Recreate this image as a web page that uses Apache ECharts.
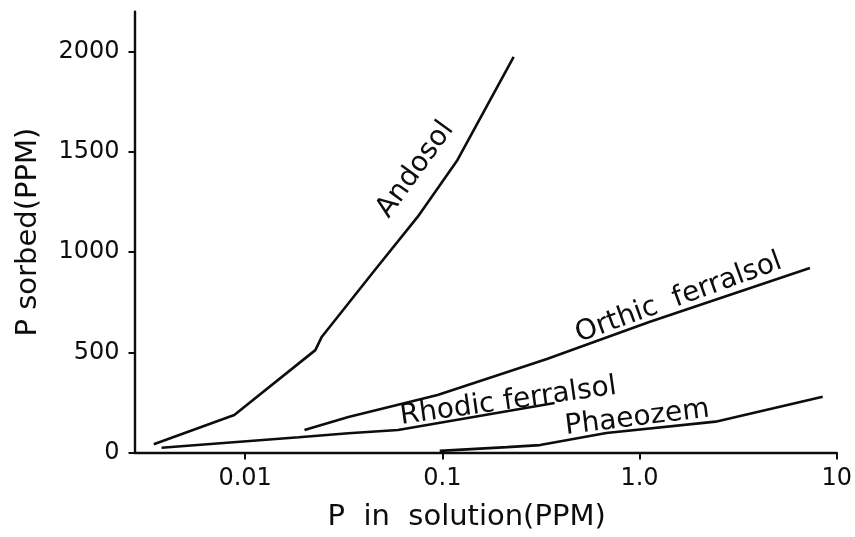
<!DOCTYPE html>
<html>
<head>
<meta charset="utf-8">
<script src="https://cdn.jsdelivr.net/npm/echarts@6/dist/echarts.min.js"></script>
<style>
  html, body { margin: 0; padding: 0; background: #fff; }
  #chart { width: 855px; height: 537px; }
</style>
</head>
<body>
<div id="chart"></div>
<script>
// P in solution (ppm) vs P sorbed (ppm)
var andosolX = [0.00344, 0.00881, 0.0227, 0.0245, 0.0455, 0.0751, 0.1194, 0.230];
var andosolY = [41, 187, 511, 578, 911, 1177, 1460, 1975];

var orthicX = [0.0200, 0.0334, 0.0946, 0.339, 1.12, 7.31];
var orthicY = [112, 177, 287, 467, 651, 921];

var rhodicX = [0.00377, 0.0187, 0.0334, 0.0596, 0.371];
var rhodicY = [24, 76, 96, 112, 247];

var phaeozemX = [0.097, 0.213, 0.313, 0.679, 2.43, 8.49];
var phaeozemY = [8, 27, 37, 97, 154, 278];

var xTicks = [0.01, 0.1, 1, 10];
var xTickText = ['0.01', '0.1', '1.0', '10'];
var yTicks = [0, 500, 1000, 1500, 2000];

// curve names written along the lines
var labelNames = ['Andosol', 'Orthic  ferralsol', 'Rhodic ferralsol', 'Phaeozem'];
var labelX = [0.0730, 1.58, 0.216, 0.973];
var labelY = [1412, 771, 254, 172];
var labelAngle = [54, 20, 8, 7];

var ink = '#0d0d0d';
var font = 'DejaVu Sans';

function pairs(xs, ys) {
  return xs.map(function (x, i) { return [x, ys[i]]; });
}

function lineSeries(name, xs, ys) {
  return {
    name: name,
    type: 'line',
    data: pairs(xs, ys),
    showSymbol: false,
    symbol: 'none',
    lineStyle: { color: ink, width: 2.6 },
    silent: true
  };
}

var chart = echarts.init(document.getElementById('chart'), null, { renderer: 'canvas' });

chart.setOption({
  backgroundColor: '#ffffff',
  animation: false,
  grid: { left: 134.5, right: 12.9, top: 11.7, bottom: 84.5, containLabel: false },
  xAxis: {
    type: 'log',
    logBase: 10,
    min: 0.002748,
    max: 10,
    name: 'P  in  solution(PPM)',
    nameLocation: 'middle',
    nameGap: 50,
    nameTextStyle: { color: ink, fontFamily: font, fontSize: 29, padding: [0, 38, 0, 0] },
    axisLine: { lineStyle: { color: ink, width: 2.4 } },
    axisTick: { inside: false, length: 7, lineStyle: { color: ink, width: 2 } },
    axisLabel: {
      showMinLabel: false,
      margin: 14,
      color: ink,
      fontFamily: font,
      fontSize: 24,
      formatter: function (v) {
        for (var i = 0; i < xTicks.length; i++) {
          if (Math.abs(Math.log10(v) - Math.log10(xTicks[i])) < 1e-6) return xTickText[i];
        }
        return '';
      }
    },
    splitLine: { show: false }
  },
  yAxis: {
    type: 'value',
    min: 0,
    max: 2200,
    interval: 500,
    name: 'P sorbed(PPM)',
    nameLocation: 'middle',
    nameGap: 92,
    nameTextStyle: { color: ink, fontFamily: font, fontSize: 29 },
    axisLine: { show: true, lineStyle: { color: ink, width: 2.4 } },
    axisTick: { show: true, length: 6, customValues: yTicks, lineStyle: { color: ink, width: 2 } },
    axisLabel: {
      customValues: yTicks,
      margin: 15,
      color: ink,
      fontFamily: font,
      fontSize: 24,
      formatter: function (v) { return String(v); }
    },
    splitLine: { show: false }
  },
  series: [
    lineSeries('Andosol', andosolX, andosolY),
    lineSeries('Orthic ferralsol', orthicX, orthicY),
    lineSeries('Rhodic ferralsol', rhodicX, rhodicY),
    lineSeries('Phaeozem', phaeozemX, phaeozemY),
    {
      name: 'labels',
      type: 'scatter',
      symbolSize: 0,
      silent: true,
      itemStyle: { opacity: 1 },
      data: labelNames.map(function (n, i) {
        return {
          value: [labelX[i], labelY[i]],
          label: { rotate: labelAngle[i], formatter: n }
        };
      }),
      label: {
        show: true,
        position: 'inside',
        color: ink,
        opacity: 1,
        fontFamily: font,
        fontSize: 28
      }
    }
  ]
});
</script>
</body>
</html>
